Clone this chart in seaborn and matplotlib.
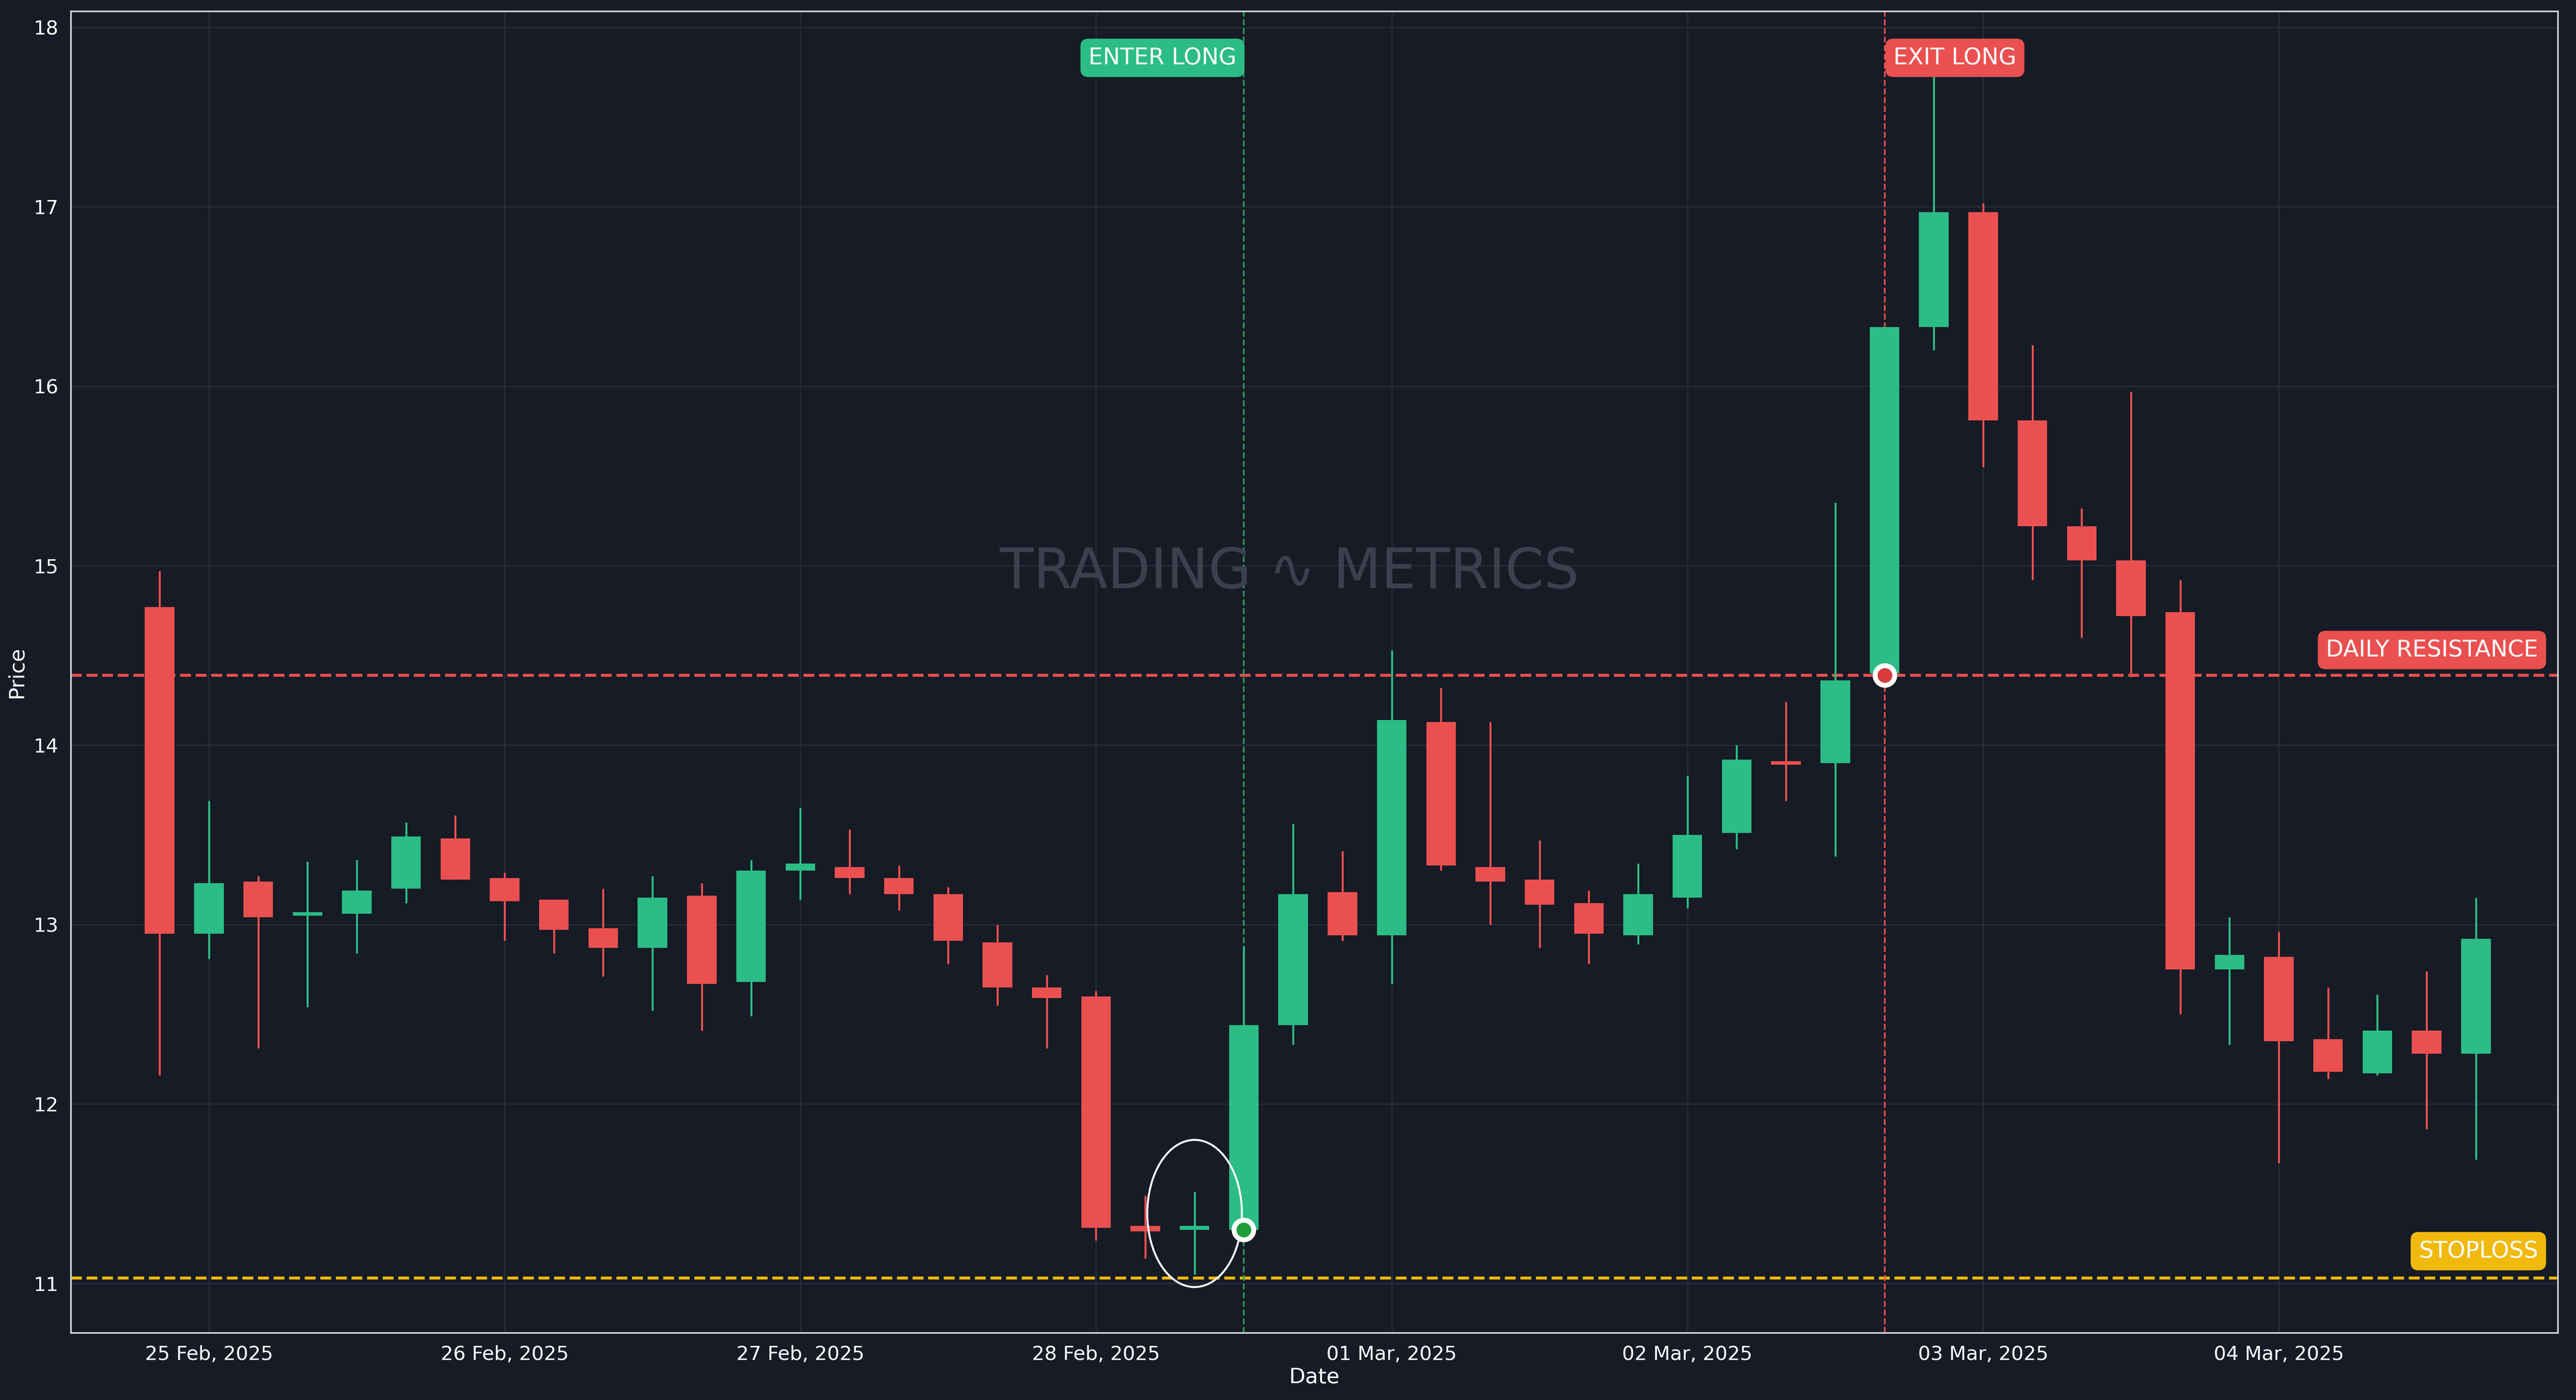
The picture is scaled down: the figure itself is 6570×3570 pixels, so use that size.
import numpy as np, pandas as pd
import matplotlib
matplotlib.use("Agg")
import matplotlib.pyplot as plt
import matplotlib.dates as mdates
from matplotlib.patches import Ellipse
import seaborn as sns

opens  = [14.77,12.95,13.24,13.05,13.06,13.20,13.48,13.26,13.14,12.98,12.87,13.16,12.68,13.30,13.32,13.26,13.17,12.90,12.65,12.60,11.32,11.30,11.30,12.44,13.18,12.94,14.13,13.32,13.25,13.12,12.94,13.15,13.51,13.91,13.90,14.40,16.33,16.97,15.81,15.22,15.03,14.74,12.75,12.82,12.36,12.17,12.41,12.28]
closes = [12.95,13.23,13.04,13.07,13.19,13.49,13.25,13.13,12.97,12.87,13.15,12.67,13.30,13.34,13.26,13.17,12.91,12.65,12.59,11.31,11.29,11.31,12.44,13.17,12.94,14.14,13.33,13.24,13.11,12.95,13.17,13.50,13.92,13.89,14.36,16.33,16.97,15.81,15.22,15.03,14.72,12.75,12.83,12.35,12.18,12.41,12.28,12.92]
highs  = [14.97,13.69,13.27,13.35,13.36,13.57,13.61,13.29,13.14,13.20,13.27,13.23,13.36,13.65,13.53,13.33,13.21,13.00,12.72,12.63,11.49,11.51,12.88,13.56,13.41,14.53,14.32,14.13,13.47,13.19,13.34,13.83,14.00,14.24,15.35,16.33,17.76,17.02,16.23,15.32,15.97,14.92,13.04,12.96,12.65,12.61,12.74,13.15]
lows   = [12.16,12.81,12.31,12.54,12.84,13.12,13.25,12.91,12.84,12.71,12.52,12.41,12.49,13.14,13.17,13.08,12.78,12.55,12.31,11.24,11.14,11.05,11.30,12.33,12.91,12.67,13.30,13.00,12.87,12.78,12.89,13.09,13.42,13.69,13.38,14.38,16.20,15.55,14.92,14.60,14.38,12.50,12.33,11.67,12.14,12.16,11.86,11.69]
dates = pd.date_range("2025-02-24 20:00", periods=len(opens), freq="4h")
resistance = 14.39
stoploss = 11.03
enter_time = pd.Timestamp("2025-02-28 12:00"); enter_price = 11.30
exit_time = pd.Timestamp("2025-03-02 16:00"); exit_price = 14.39

BG = "#161b26"; GREEN = "#2bbd85"; RED = "#eb5050"; YEL = "#f0b90b"
sns.set_theme(style="dark", rc={"axes.facecolor": BG, "figure.facecolor": BG,
    "axes.edgecolor": "#cfd3da", "text.color": "white", "xtick.color": "white",
    "ytick.color": "white", "axes.labelcolor": "white", "grid.color": "#2a303c"})
plt.rcParams['font.family'] = ['DejaVu Sans']

fig, ax = plt.subplots(figsize=(21.9, 11.9), dpi=300)
fig.subplots_adjust(left=0.0275, right=0.993, top=0.992, bottom=0.048)
ax.grid(True, color="#262c38", lw=0.8)
ax.set_axisbelow(True)

x = mdates.date2num(dates)
up = np.array(closes) >= np.array(opens)
colors = [GREEN if u else RED for u in up]
ax.vlines(x, lows, highs, colors=colors, lw=1.2, zorder=2)
bot = np.minimum(opens, closes); hgt = np.maximum(np.abs(np.array(closes) - np.array(opens)), 0.02)
ax.bar(x, hgt, bottom=bot, width=0.1, color=colors, linewidth=0, zorder=3)

ax.axhline(resistance, color=RED, ls="--", lw=1.8, zorder=1)
ax.axhline(stoploss, color=YEL, ls="--", lw=1.8, zorder=1)
ax.axvline(mdates.date2num(enter_time), color="#25a05a", ls="--", lw=1, zorder=1)
ax.axvline(mdates.date2num(exit_time), color=RED, ls="--", lw=1, zorder=1)
ax.plot([mdates.date2num(enter_time)], [enter_price], "o", ms=12, mfc="#1e9e3a", mec="white", mew=3, zorder=5)
ax.plot([mdates.date2num(exit_time)], [exit_price], "o", ms=12, mfc="#d93a3a", mec="white", mew=3, zorder=5)
ax.add_patch(Ellipse((mdates.date2num(pd.Timestamp("2025-02-28 08:00")), 11.39), 0.32, 0.82,
                     fill=False, ec="white", lw=1.2, zorder=4))

xl = (mdates.date2num(pd.Timestamp("2025-02-25")) - 0.467, mdates.date2num(pd.Timestamp("2025-02-25")) + 7.944)
ax.set_xlim(*xl); ax.set_ylim(10.725, 18.09)
ax.xaxis.set_major_locator(mdates.DayLocator())
ax.xaxis.set_major_formatter(mdates.DateFormatter("%d %b, %Y"))
ax.tick_params(labelsize=12, length=4, colors="white")
ax.set_xlabel("Date", fontsize=13, labelpad=2); ax.set_ylabel("Price", fontsize=13)
for s in ax.spines.values(): s.set_color("#cfd3da"); s.set_linewidth(1)

bb = dict(boxstyle="round,pad=0.35", lw=0)
ax.text(mdates.date2num(enter_time) - 0.025, 17.83, "ENTER LONG", ha="right", va="center", fontsize=14, color="white", bbox={**bb, "fc": GREEN}, zorder=6)
ax.text(mdates.date2num(exit_time) + 0.03, 17.83, "EXIT LONG", ha="left", va="center", fontsize=14, color="white", bbox={**bb, "fc": RED}, zorder=6)
ax.text(0.992, resistance + 0.14, "DAILY RESISTANCE", transform=ax.get_yaxis_transform(), ha="right", va="center", fontsize=14, color="white", bbox={**bb, "fc": RED}, zorder=6)
ax.text(0.992, stoploss + 0.15, "STOPLOSS", transform=ax.get_yaxis_transform(), ha="right", va="center", fontsize=14, color="white", bbox={**bb, "fc": YEL}, zorder=6)
ax.text(0.49, 0.575, "TRADING ∿ METRICS", transform=ax.transAxes, ha="center", va="center", fontsize=34, color="#3a404c", zorder=1)

fig.savefig("out.png", dpi=300, facecolor=BG)
